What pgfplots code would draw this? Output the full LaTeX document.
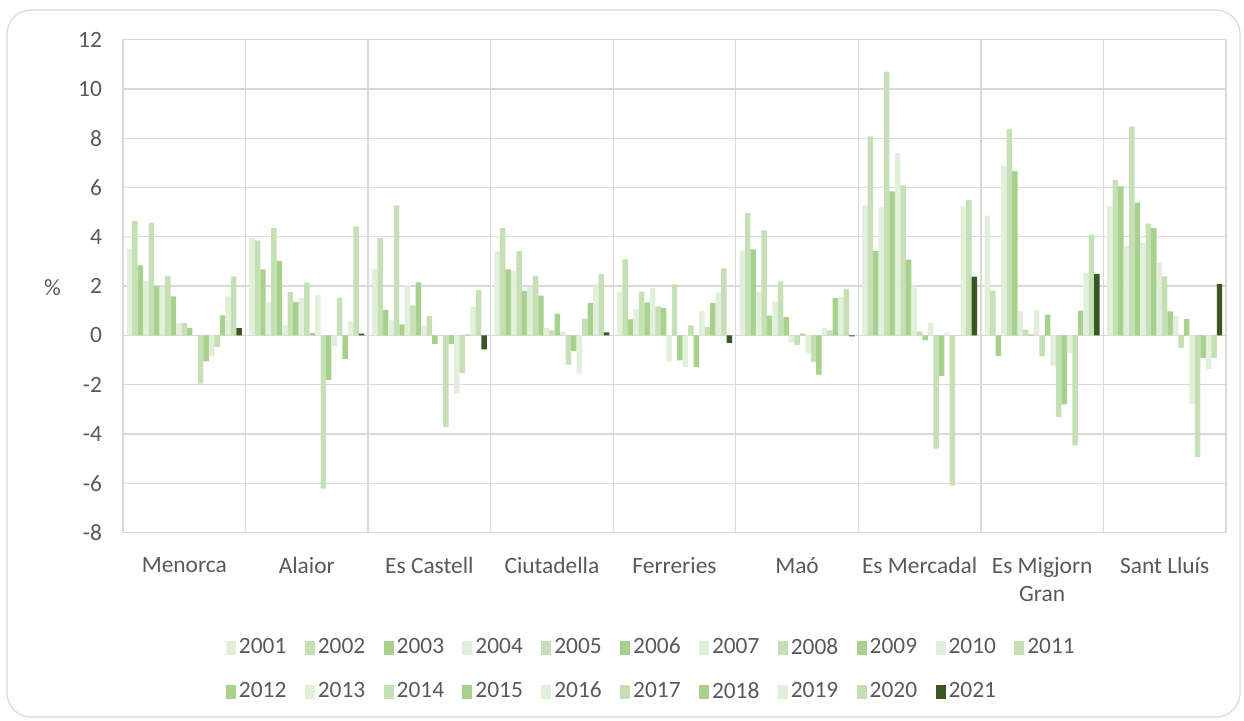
\documentclass[border=0pt]{standalone}
\usepackage{pgfplots}
\pgfplotsset{compat=1.18}
\usepackage{pgfplotstable}
\usepackage{fontspec}
\setmainfont{Carlito}
\definecolor{cA}{HTML}{E2EFDA}
\definecolor{cB}{HTML}{C5E0B4}
\definecolor{cC}{HTML}{A9D18E}
\definecolor{cD}{HTML}{385723}
\definecolor{txt}{HTML}{595959}
\definecolor{grd}{HTML}{D9D9D9}
\pgfplotstableread{
x a01 a02 a03 a04 a05 a06 a07 a08 a09 a10 a11 a12 a13 a14 a15 a16 a17 a18 a19 a20 a21
0 3.51 4.64 2.84 2.20 4.58 1.99 1.98 2.41 1.58 0.50 0.50 0.31 0.00 -1.96 -1.05 -0.85 -0.47 0.81 1.58 2.39 0.30
1 3.96 3.86 2.68 1.35 4.35 3.01 0.41 1.76 1.35 1.51 2.14 0.09 1.62 -6.22 -1.80 -0.43 1.53 -0.95 0.57 4.42 0.07
2 2.69 3.96 1.04 0.61 5.27 0.45 2.05 1.22 2.15 0.41 0.78 -0.34 0.00 -3.72 -0.34 -2.36 -1.53 0.04 1.15 1.84 -0.57
3 3.41 4.35 2.68 2.62 3.42 1.81 1.96 2.41 1.61 0.30 0.20 0.88 0.15 -1.19 -0.64 -1.55 0.68 1.32 2.09 2.49 0.12
4 1.78 3.08 0.65 1.08 1.78 1.34 1.92 1.18 1.11 -1.05 2.07 -1.01 -1.28 0.41 -1.28 0.97 0.34 1.32 1.74 2.72 -0.30
5 3.45 4.96 3.49 1.78 4.26 0.80 1.38 2.19 0.74 -0.27 -0.38 0.07 -0.72 -1.08 -1.59 0.31 0.20 1.51 1.55 1.89 -0.04
6 5.27 8.07 3.42 5.19 10.70 5.84 7.39 6.09 3.07 2.00 0.16 -0.20 0.51 -4.59 -1.65 0.11 -6.08 0.00 5.23 5.50 2.38
7 4.86 1.82 -0.84 6.89 8.38 6.66 0.97 0.23 0.04 1.04 -0.85 0.84 -1.24 -3.31 -2.80 -0.72 -4.46 1.01 2.54 4.09 2.50
8 5.24 6.31 6.05 3.62 8.47 5.39 3.74 4.53 4.36 2.93 2.39 0.97 0.78 -0.51 0.66 -2.77 -4.93 -0.91 -1.36 -0.92 2.09
}\data
\begin{document}
\begin{tikzpicture}[font=\fontsize{11.7}{14}\selectfont, text=txt]
\useasboundingbox (0,0) rectangle (622pt,360pt);
\draw[grd, line width=0.6pt, rounded corners=12pt] (3.5pt,1.5pt) rectangle (620pt,355pt);
\begin{axis}[
  at={(61.5pt,93.7pt)}, anchor=south west,
  width=551.5pt, height=246.5pt, scale only axis,
  ybar=0pt, bar width=0.0447,
  xmin=-0.5, xmax=8.5, ymin=-8, ymax=12,
  ytick={-8,-6,...,12},
  xtick={0,...,8},
  xticklabels={Menorca,Alaior,Es Castell,Ciutadella,Ferreries,Maó,Es Mercadal,{Es Migjorn\\Gran},Sant Lluís},
  xticklabel style={align=center, yshift=-9pt},
  yticklabel style={xshift=-7pt},
  /pgf/number format/assume math mode=true,
  minor xtick={-0.5,0.5,...,8.5},
  xminorgrids, ymajorgrids,
  grid style={grd, line width=0.65pt},
  minor grid style={grd, line width=0.65pt},
  axis line style={grd, line width=0.65pt},
  major tick length=0pt, minor tick length=0pt,
  tick style={draw=none},
  legend columns=11,
  legend style={draw=none, fill=none, at={(axis description cs:0.093,-0.207)}, anchor=north west,
    /tikz/every even column/.append style={column sep=7.7pt},
    row sep=9.5pt, inner sep=0pt,
    nodes={inner sep=1.5pt}},
  legend cell align=left,
  legend image code/.code={\fill[#1] (0pt,-3.5pt) rectangle (5pt,3.5pt);},
  clip=false,
]
\addplot[fill=cA, draw=none] table[x=x,y=a01]{\data};
\addplot[fill=cB, draw=none] table[x=x,y=a02]{\data};
\addplot[fill=cC, draw=none] table[x=x,y=a03]{\data};
\addplot[fill=cA, draw=none] table[x=x,y=a04]{\data};
\addplot[fill=cB, draw=none] table[x=x,y=a05]{\data};
\addplot[fill=cC, draw=none] table[x=x,y=a06]{\data};
\addplot[fill=cA, draw=none] table[x=x,y=a07]{\data};
\addplot[fill=cB, draw=none] table[x=x,y=a08]{\data};
\addplot[fill=cC, draw=none] table[x=x,y=a09]{\data};
\addplot[fill=cA, draw=none] table[x=x,y=a10]{\data};
\addplot[fill=cB, draw=none] table[x=x,y=a11]{\data};
\addplot[fill=cC, draw=none] table[x=x,y=a12]{\data};
\addplot[fill=cA, draw=none] table[x=x,y=a13]{\data};
\addplot[fill=cB, draw=none] table[x=x,y=a14]{\data};
\addplot[fill=cC, draw=none] table[x=x,y=a15]{\data};
\addplot[fill=cA, draw=none] table[x=x,y=a16]{\data};
\addplot[fill=cB, draw=none] table[x=x,y=a17]{\data};
\addplot[fill=cC, draw=none] table[x=x,y=a18]{\data};
\addplot[fill=cA, draw=none] table[x=x,y=a19]{\data};
\addplot[fill=cB, draw=none] table[x=x,y=a20]{\data};
\addplot[fill=cD, draw=none] table[x=x,y=a21]{\data};
\legend{2001,2002,2003,2004,2005,2006,2007,2008,2009,2010,2011,2012,2013,2014,2015,2016,2017,2018,2019,2020,2021}
\node at (axis description cs:-0.064,0.496) {\%};
\end{axis}
\end{tikzpicture}
\end{document}
